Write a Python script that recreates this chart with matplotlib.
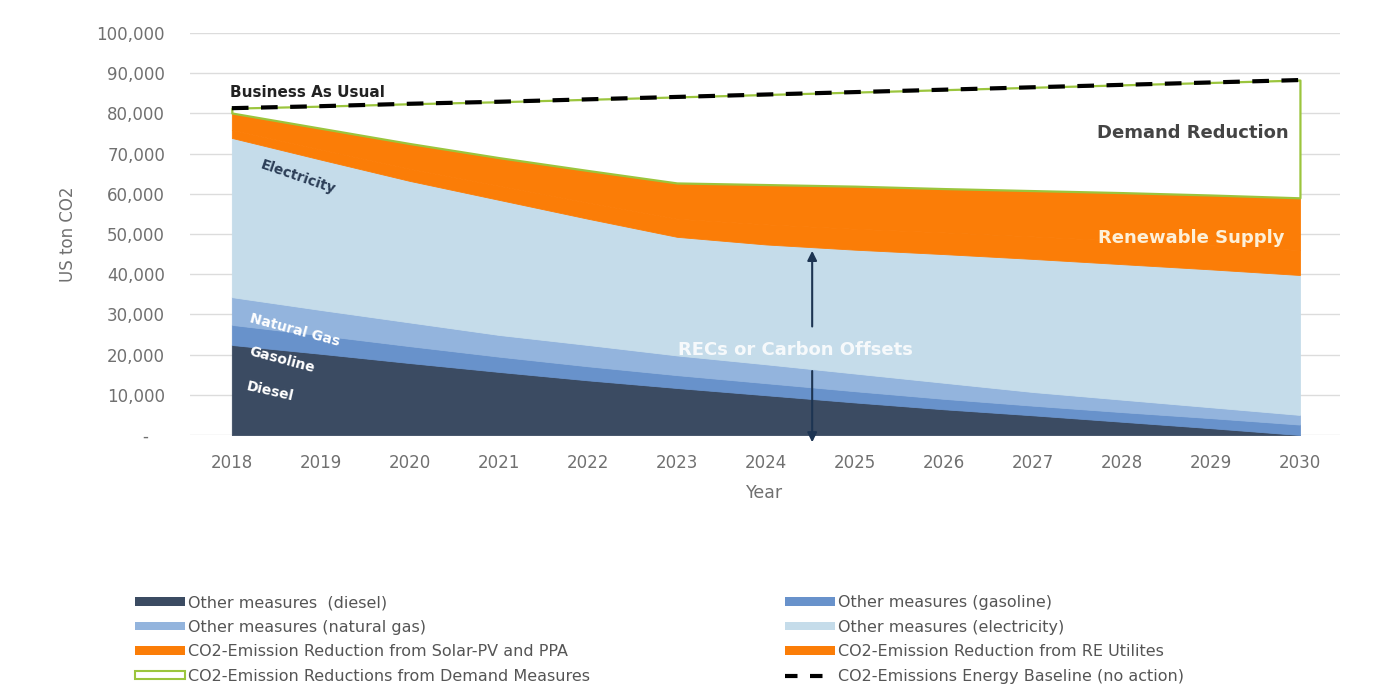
import numpy as np
import matplotlib
matplotlib.use('Agg')
import matplotlib.pyplot as plt
from matplotlib.patches import Patch
from matplotlib.lines import Line2D
from matplotlib.ticker import FuncFormatter

years = np.arange(2018, 2031)

# values in thousand US ton CO2 (per layer, stacked bottom -> top)
diesel   = [22.4, 20.2, 17.9, 15.7, 13.6, 11.7, 9.9, 8.1, 6.4, 4.9, 3.3, 1.7, 0.0]
gasoline = [5.0, 4.6, 4.2, 3.8, 3.5, 3.2, 3.0, 2.8, 2.6, 2.4, 2.4, 2.5, 2.6]
natgas   = [6.9, 6.3, 5.9, 5.4, 5.3, 4.9, 4.7, 4.4, 4.0, 3.4, 3.1, 2.7, 2.4]
elec     = [39.6, 37.4, 35.2, 33.6, 31.4, 29.5, 29.8, 30.8, 32.0, 33.1, 33.7, 34.3, 34.8]
solar    = [2.0, 2.5, 3.0, 3.5, 4.0, 4.5, 5.0, 5.2, 5.4, 5.6, 5.8, 6.0, 6.2]
re_util  = [4.2, 5.3, 6.3, 7.0, 8.0, 8.9, 9.9, 10.6, 10.9, 11.4, 12.0, 12.5, 13.0]
demand   = [1.2, 5.5, 9.9, 13.9, 17.7, 21.4, 22.4, 23.4, 24.6, 25.7, 26.8, 28.0, 29.3]
baseline = [81.3, 81.8, 82.4, 82.9, 83.5, 84.1, 84.7, 85.3, 85.9, 86.5, 87.1, 87.7, 88.3]

labels = ['Other measures  (diesel)', 'Other measures (gasoline)',
          'Other measures (natural gas)', 'Other measures (electricity)',
          'CO2-Emission Reduction from Solar-PV and PPA',
          'CO2-Emission Reduction from RE Utilites',
          'CO2-Emission Reductions from Demand Measures',
          'CO2-Emissions Energy Baseline (no action)']

c_diesel = '#3b4b62'
c_gas = '#6892cb'
c_ng = '#93b4dd'
c_el = '#c5dcea'
c_or = '#fb7d07'
c_gr = '#9bc53d'

fig = plt.figure(figsize=(13.83, 6.87), dpi=100)
ax = fig.add_axes([190/1383, 1-435/687, 1150/1383, 402/687])

layers = [diesel, gasoline, natgas, elec, solar, re_util]
cols = [c_diesel, c_gas, c_ng, c_el, c_or, c_or]
bottom = np.zeros(len(years))
for vals, c in zip(layers, cols):
    v = np.array(vals) * 1000
    ax.fill_between(years, bottom, bottom + v, facecolor=c, edgecolor=c, lw=0.6, zorder=2)
    bottom = bottom + v
d = np.array(demand) * 1000
ax.fill_between(years, bottom, bottom + d, facecolor='white', edgecolor=c_gr, lw=1.6, zorder=3)
ax.plot(years, np.array(baseline) * 1000, color='black', lw=3, dashes=(4, 3), zorder=4)

ax.set_xlim(2017.53, 2030.45)
ax.set_ylim(0, 100000)
ax.set_yticks(np.arange(0, 100001, 10000))
ax.set_xticks(years)
ax.yaxis.set_major_formatter(FuncFormatter(lambda v, p: '-   ' if v == 0 else f'{v:,.0f}'))
ax.grid(axis='y', color='#dcdcdc', lw=1, zorder=0)
ax.set_axisbelow(True)
for s in ax.spines.values():
    s.set_visible(False)
ax.tick_params(axis='both', length=0, labelsize=12, labelcolor='#707070')
ax.tick_params(axis='y', pad=18)
ax.tick_params(axis='x', pad=14)
ax.set_ylabel('US ton CO2', fontsize=12, color='#707070', labelpad=14)
ax.set_xlabel('Year', fontsize=12.5, color='#707070', labelpad=8)

# annotations
ax.text(2017.98, 85100, 'Business As Usual', fontsize=11, fontweight='bold', color='#222222',
        ha='left', va='center', zorder=5)
ax.text(2029.87, 75100, 'Demand Reduction', fontsize=13, fontweight='bold', color='#444444',
        ha='right', va='center', zorder=5)
ax.text(2029.83, 49000, 'Renewable Supply', fontsize=13, fontweight='bold', color='#fdf0d8',
        ha='right', va='center', zorder=5)
ax.text(2018.74, 64200, 'Electricity', fontsize=10, fontweight='bold', color='#2c3e57',
        rotation=-19, ha='center', va='center', zorder=5)
ax.text(2018.71, 26100, 'Natural Gas', fontsize=10, fontweight='bold', color='white',
        rotation=-15, ha='center', va='center', zorder=5)
ax.text(2018.56, 18700, 'Gasoline', fontsize=10, fontweight='bold', color='white',
        rotation=-15, ha='center', va='center', zorder=5)
ax.text(2018.43, 10700, 'Diesel', fontsize=10, fontweight='bold', color='white',
        rotation=-13, ha='center', va='center', zorder=5)
ax.text(2024.33, 21100, 'RECs or Carbon Offsets', fontsize=13, fontweight='bold', color='white',
        alpha=0.85, ha='center', va='center', zorder=5)
ax.annotate('', xy=(2024.52, 46500), xytext=(2024.52, 26300),
            arrowprops=dict(arrowstyle='-|>', color='#1d3452', lw=1.5, mutation_scale=14), zorder=5)
ax.annotate('', xy=(2024.52, -2500), xytext=(2024.52, 16600), annotation_clip=False,
            arrowprops=dict(arrowstyle='-|>', color='#1d3452', lw=1.5, mutation_scale=14), zorder=5)

# legend in two columns
h = [Patch(facecolor=c_diesel, edgecolor='none'),
     Patch(facecolor=c_gas, edgecolor='none'),
     Patch(facecolor=c_ng, edgecolor='none'),
     Patch(facecolor=c_el, edgecolor='none'),
     Patch(facecolor=c_or, edgecolor='none'),
     Patch(facecolor=c_or, edgecolor='none'),
     Patch(facecolor='white', edgecolor=c_gr, lw=1.5),
     Line2D([0], [0], color='black', lw=3, dashes=(3, 3))]
kw = dict(frameon=False, fontsize=11.5, labelcolor='#555555', handlelength=3.1,
          handleheight=0.45, handletextpad=0.2, labelspacing=0.6, borderpad=0,
          borderaxespad=0, loc='upper left')
fig.legend([h[i] for i in (0, 2, 4, 6)], [labels[i] for i in (0, 2, 4, 6)],
           bbox_to_anchor=(135/1383, 1-595/687), **kw)
fig.legend([h[i] for i in (1, 3, 5, 7)], [labels[i] for i in (1, 3, 5, 7)],
           bbox_to_anchor=(785/1383, 1-595/687), **kw)

fig.savefig('out.png', dpi=100)
